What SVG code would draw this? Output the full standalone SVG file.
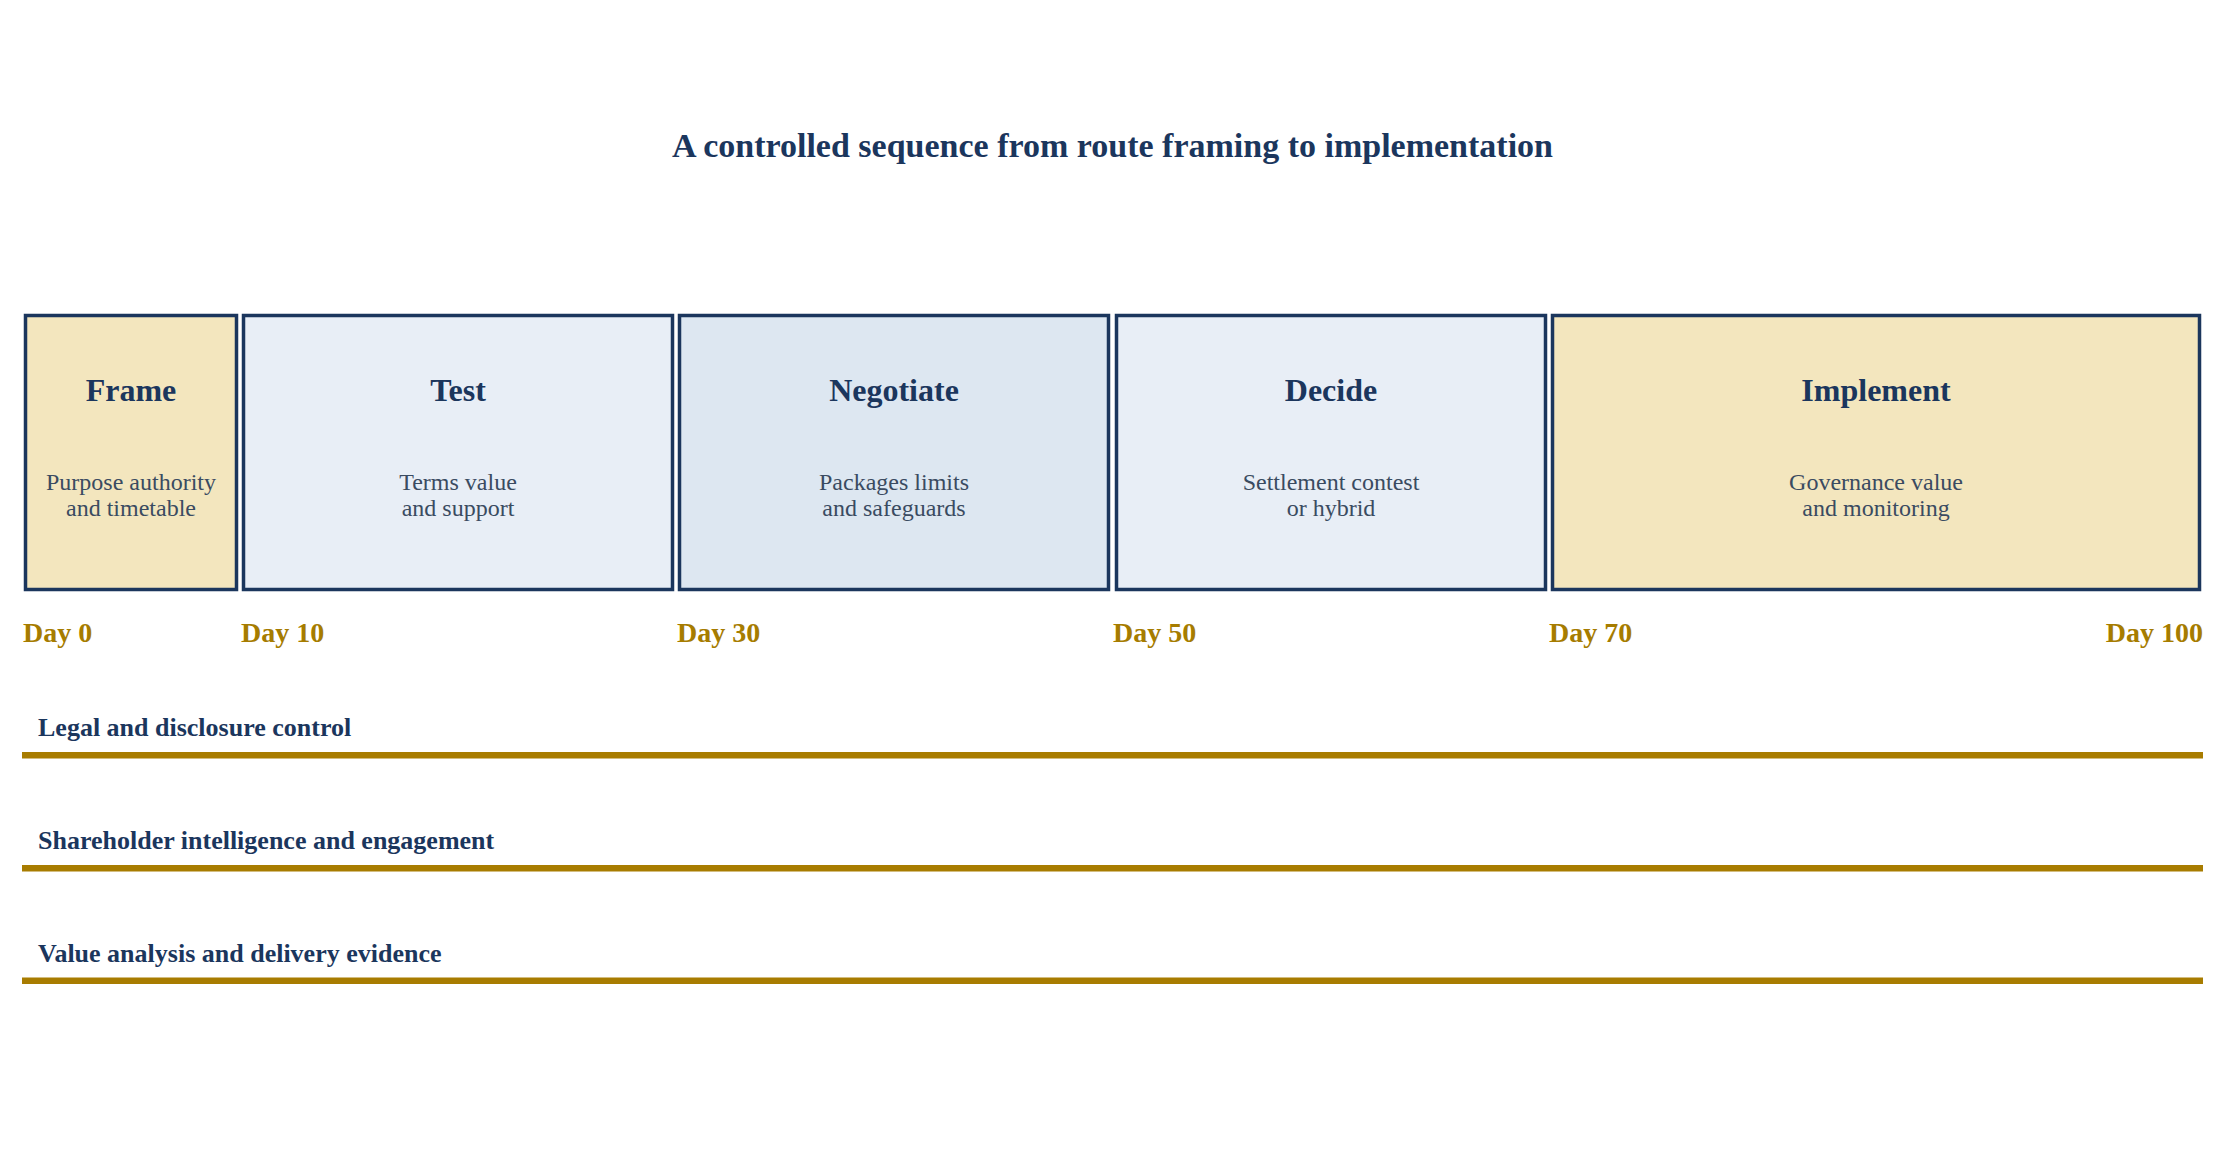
<svg xmlns="http://www.w3.org/2000/svg" width="2225" height="1172" viewBox="0 0 2225 1172">
  <style>
    text { font-family: "Liberation Serif", "Times New Roman", serif; }
    .title { font-size: 34px; font-weight: bold; fill: #1b365d; text-anchor: middle; }
    .box { stroke: #1b365d; stroke-width: 3.5; }
    .gold { fill: #f3e6be; }
    .blue { fill: #e8eef6; }
    .blue2 { fill: #dde7f1; }
    .head { font-size: 32px; font-weight: bold; fill: #1b365d; text-anchor: middle; }
    .sub { font-size: 24px; fill: #3a4b61; text-anchor: middle; }
    .day { font-size: 28px; font-weight: bold; fill: #a67c00; }
    .lane { font-size: 26px; font-weight: bold; fill: #1b365d; }
    .bar { fill: #a87c00; }
  </style>
  <rect width="2225" height="1172" fill="#ffffff"/>
  <text class="title" x="1112.5" y="157">A controlled sequence from route framing to implementation</text>

  <g id="phase-frame">
    <rect class="box gold" x="25.5" y="315.5" width="211" height="274"/>
    <text class="head" x="131" y="401">Frame</text>
    <text class="sub" x="131" y="490">Purpose authority</text>
    <text class="sub" x="131" y="516">and timetable</text>
  </g>
  <g id="phase-test">
    <rect class="box blue" x="243.5" y="315.5" width="429" height="274"/>
    <text class="head" x="458" y="401">Test</text>
    <text class="sub" x="458" y="490">Terms value</text>
    <text class="sub" x="458" y="516">and support</text>
  </g>
  <g id="phase-negotiate">
    <rect class="box blue2" x="679.5" y="315.5" width="429" height="274"/>
    <text class="head" x="894" y="401">Negotiate</text>
    <text class="sub" x="894" y="490">Packages limits</text>
    <text class="sub" x="894" y="516">and safeguards</text>
  </g>
  <g id="phase-decide">
    <rect class="box blue" x="1116.5" y="315.5" width="429" height="274"/>
    <text class="head" x="1331" y="401">Decide</text>
    <text class="sub" x="1331" y="490">Settlement contest</text>
    <text class="sub" x="1331" y="516">or hybrid</text>
  </g>
  <g id="phase-implement">
    <rect class="box gold" x="1552.5" y="315.5" width="647" height="274"/>
    <text class="head" x="1876" y="401">Implement</text>
    <text class="sub" x="1876" y="490">Governance value</text>
    <text class="sub" x="1876" y="516">and monitoring</text>
  </g>

  <g id="day-labels">
    <text class="day" x="23" y="642">Day 0</text>
    <text class="day" x="241" y="642">Day 10</text>
    <text class="day" x="677" y="642">Day 30</text>
    <text class="day" x="1113" y="642">Day 50</text>
    <text class="day" x="1549" y="642">Day 70</text>
    <text class="day" x="2203" y="642" text-anchor="end">Day 100</text>
  </g>

  <g id="connectors">
    <g id="lane-legal">
      <text class="lane" x="38" y="736">Legal and disclosure control</text>
      <rect class="bar" x="22" y="752" width="2181" height="6.5"/>
    </g>
    <g id="lane-shareholder">
      <text class="lane" x="38" y="849">Shareholder intelligence and engagement</text>
      <rect class="bar" x="22" y="865" width="2181" height="6.5"/>
    </g>
    <g id="lane-value">
      <text class="lane" x="38" y="962">Value analysis and delivery evidence</text>
      <rect class="bar" x="22" y="977.5" width="2181" height="6.5"/>
    </g>
  </g>
</svg>
